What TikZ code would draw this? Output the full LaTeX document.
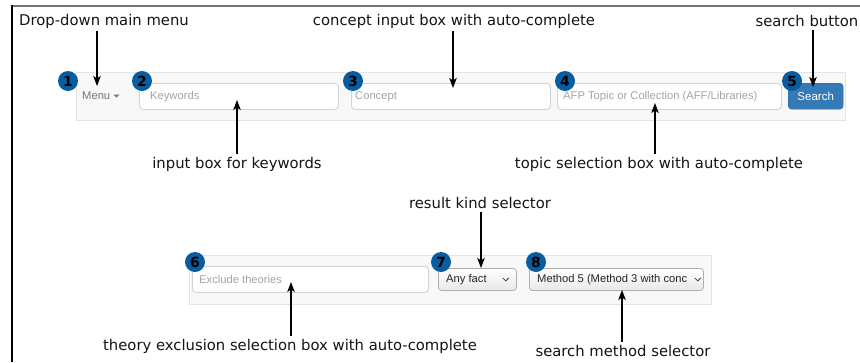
\documentclass[tikz,border=0pt]{standalone}
\usepackage{fontspec}
\setmainfont{DejaVu Sans}
\newfontfamily\uifont{Liberation Sans}
\usetikzlibrary{arrows.meta}
\definecolor{badgeblue}{RGB}{8,92,160}
\definecolor{panelfill}{RGB}{248,248,248}
\definecolor{panelline}{RGB}{228,228,228}
\definecolor{boxline}{RGB}{206,212,218}
\definecolor{placeholder}{RGB}{165,165,165}
\definecolor{menugray}{RGB}{119,119,119}
\definecolor{btnblue}{RGB}{51,122,183}
\definecolor{btnline}{RGB}{46,109,164}
\definecolor{selline}{RGB}{175,175,175}
\tikzset{
  lbl/.style={font=\fontsize{14.8}{17}\selectfont, text=black!92, inner sep=3pt},
  arr/.style={line width=1.2pt, -{Stealth[length=10pt,width=7.5pt,inset=2.5pt]}},
  panel/.style={fill=panelfill, draw=panelline, line width=0.8pt},
  inbox/.style={draw=boxline, fill=white, line width=0.9pt, rounded corners=3.5pt, minimum height=26pt, inner sep=0pt, anchor=north west},
  selbox/.style={draw=selline, top color=white, bottom color=black!9, line width=0.8pt, rounded corners=3pt, minimum height=22pt, inner sep=0pt, anchor=north west},
  ph/.style={font=\uifont\fontsize{11.2}{13}\selectfont, text=placeholder, anchor=west, inner sep=0pt},
  uitext/.style={font=\uifont\fontsize{11.2}{13}\selectfont, text=black!85, anchor=west, inner sep=0pt},
  badge/.style={circle, fill=badgeblue, minimum size=20pt, inner sep=0pt, font=\bfseries\fontsize{14}{14}\selectfont, text=black},
  chev/.style={line width=0.8pt, draw=black!75}
}
\begin{document}
\begin{tikzpicture}[x=1pt,y=-1pt]
\useasboundingbox (0,0) rectangle (860,362);

% frame
\draw[line width=2pt, black!55] (11,6) -- (860,6);
\draw[line width=2pt, black] (12,5) -- (12,362);

% ---------- top search bar ----------
\draw[panel] (76,72) rectangle (845,120);

\node[uitext, text=menugray] (menu) at (82,96) {Menu};
\fill[menugray] (113.5,94.5) -- (119.5,94.5) -- (116.5,97.5) -- cycle;

\node[inbox, minimum width=199pt] (kw) at (139,83) {};
\node[ph] (kwt) at ([xshift=11pt]kw.west) {Keywords};

\node[inbox, minimum width=199pt] (concept) at (351,83) {};
\node[ph] (conceptt) at ([xshift=4pt]concept.west) {Concept};

\node[inbox, minimum width=224pt] (topic) at (557,83) {};
\node[ph] (topict) at ([xshift=6pt]topic.west) {AFP Topic or Collection (AFF/Libraries)};

\node[draw=btnline, fill=btnblue, rounded corners=3.5pt, minimum width=55pt, minimum height=26pt, inner sep=0pt, anchor=north west,
      font=\uifont\fontsize{11.5}{13}\selectfont, text=white] (search) at (788,83) {Search};

% ---------- bottom bar ----------
\draw[panel] (189,255) rectangle (711,304);

\node[inbox, minimum width=236pt] (excl) at (192,266) {};
\node[ph] (exclt) at ([xshift=7pt]excl.west) {Exclude theories};

\node[selbox, minimum width=78pt] (kind) at (438,268) {};
\node[uitext] (kindt) at ([xshift=8pt]kind.west) {Any fact};
\draw[chev] ([xshift=-14pt,yshift=1.5pt]kind.east) -- ([xshift=-11pt,yshift=-1.5pt]kind.east) -- ([xshift=-8pt,yshift=1.5pt]kind.east);

\node[selbox, minimum width=174pt] (method) at (529,268) {};
\node[uitext] (methodt) at ([xshift=8pt]method.west) {Method 5 (Method 3 with conc};
\draw[chev] ([xshift=-9pt,yshift=1.5pt]method.east) -- ([xshift=-6pt,yshift=-1.5pt]method.east) -- ([xshift=-3pt,yshift=1.5pt]method.east);

% ---------- numbered badges ----------
\node[badge] (b1) at (68,81) {1};
\node[badge] (b2) at (142,81) {2};
\node[badge] (b3) at (353,81) {3};
\node[badge] (b4) at (565,81) {4};
\node[badge] (b5) at (792,81) {5};
\node[badge] (b6) at (195,262) {6};
\node[badge] (b7) at (441,262) {7};
\node[badge] (b8) at (536,262) {8};

% ---------- callout labels ----------
\node[lbl] (l1) at (104,21) {Drop-down main menu};
\node[lbl] (l3) at (454,21) {concept input box with auto-complete};
\node[lbl] (l5) at (807,21) {search button};
\node[lbl] (l2) at (237,164) {input box for keywords};
\node[lbl] (l4) at (659,164) {topic selection box with auto-complete};
\node[lbl] (l7) at (480,203) {result kind selector};
\node[lbl] (l6) at (290,346) {theory exclusion selection box with auto-complete};
\node[lbl] (l8) at (623,351) {search method selector};

% arrow tips on the widgets
\coordinate (t1) at (97,86);
\coordinate (t2) at (237,100);
\coordinate (t3) at (453,88);
\coordinate (t4) at (655,103);
\coordinate (t5) at (813,87);
\coordinate (t6) at (291,282);
\coordinate (t7) at (481,268);
\coordinate (t8) at (622,290);

\draw[arr] (l1.south -| t1) -- (t1);
\draw[arr] (l3.south -| t3) -- (t3);
\draw[arr] (l5.south -| t5) -- (t5);
\draw[arr] (l2.north -| t2) -- (t2);
\draw[arr] (l4.north -| t4) -- (t4);
\draw[arr] (l7.south -| t7) -- (t7);
\draw[arr] (l6.north -| t6) -- (t6);
\draw[arr] (l8.north -| t8) -- (t8);
\end{tikzpicture}
\end{document}
